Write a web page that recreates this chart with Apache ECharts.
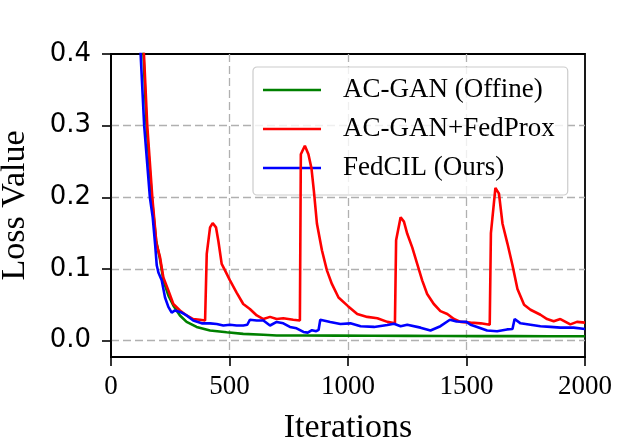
<!DOCTYPE html>
<html>
<head>
<meta charset="utf-8">
<script src="https://cdn.jsdelivr.net/npm/echarts@6/dist/echarts.min.js"></script>
<style>
html,body{margin:0;padding:0;background:#fff;}
#chart{width:620px;height:444px;}
</style>
</head>
<body>
<div id="chart"></div>
<script>
const xTicks = [0, 500, 1000, 1500, 2000];
const yTicks = [0.0, 0.1, 0.2, 0.3, 0.4];

const offlineIters = [100, 137, 150, 172, 190, 207, 221, 242, 263, 291, 319, 361, 418, 488, 558, 643, 699, 812, 950, 1100, 1250, 1400, 1550, 1700, 1850, 2000];
const offlineLoss  = [0.6, 0.40, 0.30, 0.20, 0.14, 0.113, 0.084, 0.063, 0.049, 0.035, 0.026, 0.019, 0.014, 0.0115, 0.0093, 0.008, 0.007, 0.007, 0.0068, 0.0066, 0.0065, 0.0063, 0.0062, 0.0062, 0.006, 0.006];

const proxIters = [100, 139, 153, 175, 192, 207, 221, 242, 263, 291, 319, 347, 375, 397, 404, 418, 429, 443, 453, 467, 481, 502, 530, 558, 586, 615, 643, 671, 699, 727, 769, 797, 801, 818, 833, 846, 856, 869, 890, 911, 932, 960, 1000, 1039, 1081, 1124, 1166, 1198, 1203, 1222, 1236, 1250, 1271, 1292, 1313, 1334, 1362, 1390, 1419, 1447, 1475, 1517, 1560, 1598, 1603, 1622, 1637, 1652, 1673, 1694, 1715, 1743, 1770, 1812, 1840, 1868, 1896, 1938, 1966, 2000];
const proxLoss  = [0.6, 0.40, 0.30, 0.197, 0.135, 0.116, 0.088, 0.070, 0.051, 0.042, 0.035, 0.030, 0.029, 0.028, 0.121, 0.158, 0.164, 0.158, 0.139, 0.107, 0.098, 0.084, 0.067, 0.051, 0.044, 0.035, 0.030, 0.033, 0.030, 0.031, 0.029, 0.028, 0.26, 0.272, 0.26, 0.24, 0.209, 0.163, 0.126, 0.098, 0.079, 0.060, 0.048, 0.037, 0.033, 0.031, 0.026, 0.024, 0.14, 0.172, 0.166, 0.149, 0.130, 0.107, 0.084, 0.065, 0.051, 0.041, 0.037, 0.030, 0.026, 0.025, 0.024, 0.022, 0.15, 0.213, 0.205, 0.163, 0.135, 0.105, 0.072, 0.050, 0.043, 0.036, 0.030, 0.027, 0.030, 0.0225, 0.026, 0.025];

const oursIters = [100, 125, 140, 152, 164, 176, 186, 193, 200, 214, 228, 242, 256, 270, 298, 319, 347, 383, 418, 446, 474, 502, 530, 558, 575, 586, 615, 643, 671, 699, 727, 755, 783, 812, 830, 848, 866, 876, 883, 925, 968, 1010, 1053, 1110, 1166, 1194, 1222, 1250, 1306, 1348, 1390, 1430, 1458, 1500, 1517, 1545, 1587, 1629, 1671, 1694, 1703, 1728, 1770, 1812, 1854, 1896, 1952, 2000];
const oursLoss  = [0.6, 0.40, 0.30, 0.25, 0.20, 0.172, 0.135, 0.105, 0.095, 0.084, 0.060, 0.047, 0.039, 0.042, 0.039, 0.035, 0.028, 0.024, 0.024, 0.023, 0.021, 0.022, 0.021, 0.021, 0.022, 0.029, 0.028, 0.028, 0.021, 0.026, 0.024, 0.019, 0.017, 0.012, 0.011, 0.0145, 0.013, 0.015, 0.029, 0.026, 0.023, 0.024, 0.020, 0.019, 0.0216, 0.0235, 0.020, 0.022, 0.018, 0.014, 0.020, 0.029, 0.0265, 0.026, 0.022, 0.019, 0.014, 0.013, 0.0155, 0.016, 0.030, 0.024, 0.022, 0.020, 0.019, 0.018, 0.018, 0.016];

const seriesNames = ['AC-GAN (Offine)', 'AC-GAN+FedProx', 'FedCIL (Ours)'];

function zip(xs, ys) { return xs.map((x, i) => [x, ys[i]]); }

const serif = 'Liberation Serif, Times New Roman, serif';
const chart = echarts.init(document.getElementById('chart'), null, {renderer: 'canvas'});
const dash = {color: '#b0b0b0', width: 1.3, type: [8, 4]};

chart.setOption({
  animation: false,
  backgroundColor: '#fff',
  grid: {left: 111, right: 35, top: 54, bottom: 87, show: true, borderColor: '#000', borderWidth: 1.8,
    backgroundColor: 'transparent', containLabel: false, outerBoundsMode: 'none'},
  legend: {
    show: true,
    orient: 'vertical',
    left: 253, top: 67,
    padding: [7, 13, 11, 10],
    itemWidth: 58, itemHeight: 2.6, itemGap: 7,
    icon: 'rect',
    backgroundColor: 'rgba(255,255,255,0.8)',
    borderColor: '#cccccc', borderWidth: 1.2, borderRadius: 4,
    textStyle: {fontFamily: serif, fontSize: 27, color: '#000', lineHeight: 32, padding: [0, 0, 0, 17]},
    data: seriesNames
  },
  xAxis: {
    type: 'value', min: 0, max: 2000, interval: 500,
    name: 'Iterations', nameLocation: 'middle', nameGap: 54,
    nameTextStyle: {fontFamily: serif, fontSize: 34, color: '#000'},
    axisLine: {show: true, onZero: false, lineStyle: {color: '#000', width: 1.8}},
    axisTick: {show: true, length: 9, lineStyle: {color: '#000', width: 1.6}, customValues: xTicks},
    axisLabel: {fontFamily: serif, fontSize: 27, color: '#000', margin: 16, customValues: xTicks,
      formatter: v => String(Math.round(v))},
    splitLine: {show: true, showMinLine: false, showMaxLine: false, lineStyle: dash}
  },
  yAxis: {
    type: 'value', min: -0.023, max: 0.4,
    name: 'Loss Value', nameLocation: 'middle', nameGap: 79,
    nameTextStyle: {fontFamily: serif, fontSize: 34, color: '#000'},
    axisLine: {show: true, onZero: false, lineStyle: {color: '#000', width: 1.8}},
    axisTick: {show: true, length: 9, lineStyle: {color: '#000', width: 1.6}, customValues: yTicks},
    axisLabel: {fontFamily: 'DejaVu Sans', fontSize: 26, color: '#000', margin: 20, customValues: yTicks,
      formatter: v => Number(v).toFixed(1)},
    splitLine: {show: true, showMinLine: true, showMaxLine: false, lineStyle: dash}
  },
  series: [
    {name: seriesNames[0], type: 'line', data: zip(offlineIters, offlineLoss), showSymbol: false, symbol: 'none',
      lineStyle: {color: '#008000', width: 2.6}, itemStyle: {color: '#008000'}, clip: true, z: 3},
    {name: seriesNames[1], type: 'line', data: zip(proxIters, proxLoss), showSymbol: false, symbol: 'none',
      lineStyle: {color: '#ff0000', width: 2.6}, itemStyle: {color: '#ff0000'}, clip: true, z: 4},
    {name: seriesNames[2], type: 'line', data: zip(oursIters, oursLoss), showSymbol: false, symbol: 'none',
      lineStyle: {color: '#0000ff', width: 2.6}, itemStyle: {color: '#0000ff'}, clip: true, z: 5}
  ]
});
</script>
</body>
</html>
